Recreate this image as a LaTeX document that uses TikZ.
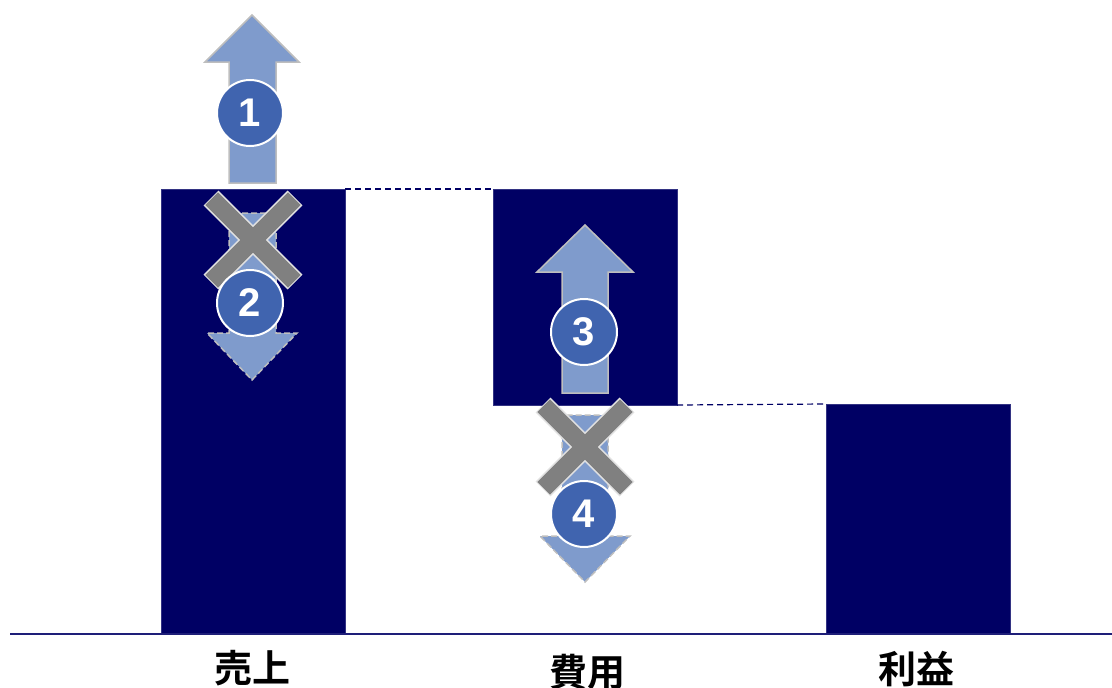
\documentclass[tikz,border=0pt]{standalone}
\usepackage{fontspec}
\setmainfont{Liberation Sans}
\newfontfamily\cjk{Noto Sans CJK JP Bold}
\definecolor{barnavy}{RGB}{0,0,100}
\definecolor{arrowfill}{RGB}{127,155,204}
\definecolor{arrowedge}{RGB}{190,190,190}
\definecolor{circfill}{RGB}{64,100,175}
\definecolor{xgray}{RGB}{128,128,128}
\definecolor{xedge}{RGB}{225,225,225}
\definecolor{axisblue}{RGB}{30,30,120}
\begin{document}
\begin{tikzpicture}[x=1pt,y=-1pt,
  barbox/.style={fill=barnavy,draw=barnavy!80!white,line width=0.6pt,minimum width=184pt,inner sep=0pt,outer sep=0pt},
  uparr/.style={fill=arrowfill,draw=arrowedge,line width=1.5pt},
  downarr/.style={fill=arrowfill,draw=arrowedge,line width=1.5pt,dash pattern=on 6pt off 3pt},
  numcirc/.style={circle,fill=circfill,draw=white,line width=2pt,minimum size=66pt,inner sep=0pt,text=white,font=\fontsize{40}{40}\selectfont\bfseries},
  xlight/.style={draw=xedge,line width=21pt},
  xdark/.style={draw=xgray,line width=18pt},
  guide/.style={draw=barnavy,line width=1.2pt,dash pattern=on 6pt off 4pt},
  lab/.style={font=\cjk\fontsize{38}{38}\selectfont,inner sep=0pt}
]
\useasboundingbox (0,0) rectangle (1112,688);
% bars
\node[barbox,minimum height=444pt] (b1) at (253,411) {};
\node[barbox,minimum height=216pt] (b2) at (585,297) {};
\node[barbox,minimum height=229pt] (b3) at (918,518.5) {};
% axis
\coordinate (ax0) at (10,634);
\coordinate (ax1) at (1112,634);
\draw[axisblue,line width=2pt] (ax0) -- (ax1);
% guide lines
\draw[guide] (b1.north east) -- (b2.north west);
\draw[guide] (b2.south east) -- (b3.north west);
% arrow 1 (up)
\draw[uparr] (229,183) -- (229,62) -- (205,62) -- (252,15) -- (299,62) -- (276,62) -- (276,183) -- cycle;
% arrow 2 (down, dashed)
\draw[downarr] (229,213) -- (229,333) -- (207,333) -- (252,380) -- (297,333) -- (276,333) -- (276,213) -- cycle;
% arrow 3 (up)
\draw[uparr] (562,393) -- (562,272) -- (537,272) -- (585,225) -- (633,272) -- (608,272) -- (608,393) -- cycle;
% arrow 4 (down, dashed)
\draw[downarr] (562,415) -- (562,536) -- (540,536) -- (585,582) -- (630,536) -- (608,536) -- (608,415) -- cycle;
% X marks
\foreach \cx/\cy in {253/240, 585/447}{
  \draw[xlight] (\cx-42,\cy-42) -- (\cx+42,\cy+42);
  \draw[xlight] (\cx+42,\cy-42) -- (\cx-42,\cy+42);
}
\foreach \cx/\cy in {253/240, 585/447}{
  \draw[xdark] (\cx-41.3,\cy-41.3) -- (\cx+41.3,\cy+41.3);
  \draw[xdark] (\cx+41.3,\cy-41.3) -- (\cx-41.3,\cy+41.3);
}
% number circles
\node[numcirc] (n1) at (250,113) {1};
\node[numcirc] (n2) at (250,303) {2};
\node[numcirc] (n3) at (584,332) {3};
\node[numcirc] (n4) at (584,514) {4};
% labels
\node[lab,anchor=north] (l1) at (252,650) {売上};
\node[lab,anchor=north] (l2) at (587,654) {費用};
\node[lab,anchor=north] (l3) at (916,651) {利益};
\end{tikzpicture}
\end{document}
